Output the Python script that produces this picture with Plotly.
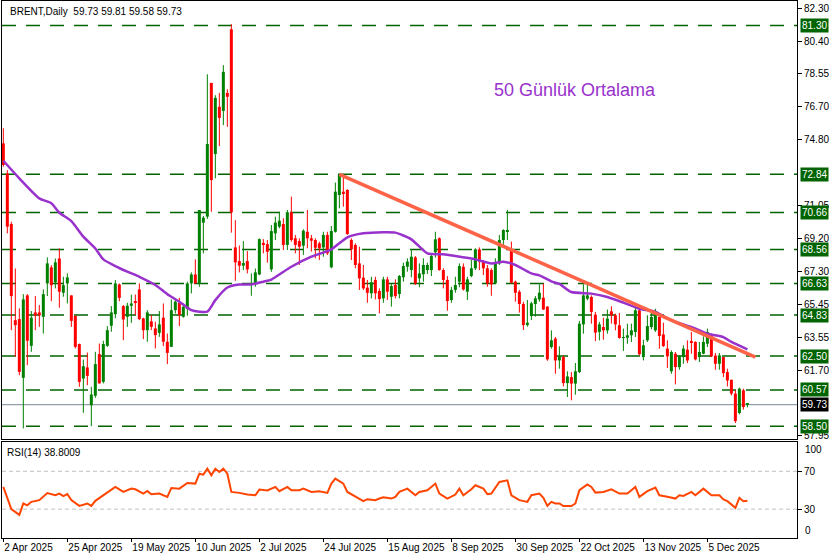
import plotly.graph_objects as go

# ---------------- data ----------------
opens = [74.60,72.89,70.01,64.54,64.60,61.26,65.95,63.08,64.98,64.98,
         64.73,66.63,67.54,66.69,68.05,66.10,66.63,65.95,64.79,63.18,
         61.22,61.85,59.70,60.24,62.61,61.03,63.08,64.22,64.88,66.57,
         65.34,64.73,65.36,65.62,66.29,64.64,63.97,64.47,64.07,63.82,
         64.68,63.31,63.02,65.11,65.53,64.73,65.17,66.63,67.14,66.63,
         70.09,70.43,78.04,73.99,76.68,76.45,77.47,81.09,68.68,67.90,
         67.64,67.90,66.57,66.63,67.14,68.94,68.87,67.43,69.48,69.86,
         70.01,68.82,70.68,69.20,69.04,68.78,69.57,69.20,69.10,68.91,
         68.68,69.39,67.55,69.57,71.66,71.85,71.95,69.10,68.82,67.77,
         66.96,66.39,66.07,66.83,66.20,65.78,66.86,65.87,66.54,66.03,
         66.98,67.58,67.39,68.11,66.92,67.15,67.39,67.39,68.40,69.20,
         67.39,66.83,65.69,66.26,66.73,67.58,66.16,67.05,67.49,68.57,
         67.87,67.49,67.39,66.63,67.77,69.10,69.61,68.57,66.73,66.16,
         65.46,64.26,64.78,65.46,65.72,65.82,65.31,63.01,63.49,62.25,
         62.44,60.96,61.30,60.93,61.59,64.30,65.76,65.86,64.85,63.87,
         64.15,63.96,65.04,64.82,64.25,63.53,63.54,63.68,63.87,65.10,
         62.44,63.39,64.15,63.96,64.72,63.73,62.92,61.63,62.63,61.87,
         62.44,62.86,63.32,63.30,62.44,62.63,63.20,63.73,62.52,62.06,
         62.44,61.59,61.15,60.36,59.26,60.55,59.73]
highs = [75.46,73.08,70.14,67.48,65.21,66.02,66.02,65.06,65.91,65.40,
         66.29,68.11,67.67,68.05,68.62,67.01,67.20,65.95,64.79,63.21,
         62.30,62.70,60.75,62.74,63.21,63.37,64.20,65.34,66.82,66.63,
         65.40,65.53,65.99,66.00,66.63,64.68,65.11,64.83,64.45,65.06,
         65.49,63.78,65.72,65.72,65.81,65.49,66.72,67.26,68.00,70.81,
         70.47,78.53,78.04,77.34,77.47,79.05,77.68,81.38,70.23,68.79,
         69.04,68.47,67.20,67.48,69.19,69.15,69.10,69.95,70.43,70.71,
         70.34,70.81,71.57,69.39,69.20,69.71,70.81,69.39,69.20,69.01,
         69.57,69.57,69.90,72.37,72.84,72.71,71.99,69.20,68.91,68.72,
         67.68,66.83,67.01,67.01,66.35,67.01,67.01,66.63,66.86,67.11,
         67.81,68.06,68.57,68.19,67.77,68.06,67.81,68.34,69.57,69.25,
         67.49,67.05,66.44,67.01,67.77,67.77,67.01,67.96,68.63,68.68,
         67.96,67.68,67.49,68.06,69.39,69.71,70.81,69.01,66.79,66.26,
         65.59,65.69,65.59,65.91,66.58,66.63,65.34,63.96,63.58,63.05,
         62.54,61.63,61.59,62.10,64.49,66.58,66.62,65.95,65.01,64.44,
         64.68,65.14,65.33,64.91,64.95,64.06,64.34,64.34,65.29,65.29,
         63.43,64.82,65.10,65.19,64.91,64.40,63.39,62.82,62.73,62.54,
         63.11,63.39,63.87,63.34,63.30,63.62,64.06,63.77,62.67,62.67,
         62.44,61.78,61.15,60.55,60.70,60.64,59.81]
lows = [73.27,69.48,63.97,62.46,61.41,58.38,61.98,62.74,63.97,64.16,
        63.78,65.91,65.62,66.35,65.25,65.87,65.49,64.16,62.93,60.75,
        59.27,60.84,58.51,60.12,60.94,60.94,63.02,63.88,64.64,65.62,
        63.40,64.16,64.39,64.83,64.54,63.46,63.31,63.97,62.93,63.59,
        63.06,62.04,63.02,64.92,64.20,64.68,64.79,66.06,66.63,66.44,
        68.34,70.30,70.71,72.61,74.44,75.64,75.54,69.52,66.78,67.26,
        67.39,67.20,65.93,66.44,67.10,68.34,67.81,67.29,69.10,69.77,
        68.53,68.53,69.01,68.34,67.68,68.25,68.63,68.44,68.06,67.96,
        68.15,68.25,67.49,69.52,70.90,71.00,69.39,67.96,67.49,66.26,
        66.26,65.53,65.78,65.72,64.93,65.53,65.69,65.31,65.78,65.78,
        66.73,67.30,66.98,66.54,66.41,66.73,67.17,67.05,68.10,67.36,
        66.35,65.08,65.53,66.10,66.41,66.22,65.69,66.98,67.39,67.39,
        67.11,66.44,65.93,66.60,67.68,68.72,69.10,66.63,65.59,64.97,
        63.98,64.17,64.55,64.74,65.59,65.12,62.23,62.92,61.49,61.78,
        60.77,60.17,59.98,60.30,61.53,63.77,65.67,64.34,63.35,63.39,
        63.43,63.77,64.34,63.96,63.49,62.79,63.20,63.30,63.58,62.54,
        62.25,63.30,64.02,63.87,62.92,63.01,61.82,61.49,60.89,61.72,
        62.06,62.10,62.63,62.25,62.16,62.60,63.01,62.44,61.72,61.72,
        61.30,60.77,60.26,58.69,59.18,59.45,59.58]
closes = [73.37,69.86,65.91,64.26,61.60,65.72,63.37,64.68,64.81,64.81,
          66.02,67.77,66.53,67.83,66.16,66.53,66.97,64.50,63.02,61.03,
          61.92,61.37,60.31,62.04,60.94,63.18,63.97,64.98,66.63,65.81,
          64.58,65.36,65.49,65.56,64.60,63.97,64.98,64.16,63.69,64.30,
          63.31,62.68,65.11,65.59,64.83,65.30,66.63,67.14,66.63,70.81,
          70.37,74.56,72.51,77.19,76.05,78.67,77.25,70.67,67.83,67.64,
          67.79,67.43,66.63,67.26,69.15,68.85,68.43,69.61,70.09,70.20,
          68.82,70.68,69.10,68.82,68.72,69.63,69.20,69.06,68.66,68.63,
          69.39,68.34,69.61,71.85,72.80,71.72,69.44,68.57,67.68,66.92,
          66.35,66.10,66.69,66.07,65.74,66.86,66.16,66.48,65.91,67.05,
          67.62,67.87,68.15,66.63,67.20,67.68,67.68,68.19,69.14,67.39,
          66.83,65.63,66.26,66.54,67.62,66.29,66.86,67.49,68.57,67.87,
          67.49,66.63,66.58,67.77,69.10,69.67,69.67,66.67,66.10,65.46,
          64.26,64.40,65.50,65.78,66.10,65.15,62.31,63.39,62.25,62.48,
          60.96,61.34,60.93,61.63,64.34,65.95,65.95,65.01,63.83,64.30,
          63.96,64.63,64.82,64.30,63.53,63.58,63.68,63.96,65.10,62.60,
          63.11,64.21,64.72,65.06,63.64,63.07,62.48,62.73,61.87,62.48,
          62.92,62.25,63.26,62.31,62.73,63.30,63.87,62.48,62.06,62.54,
          61.53,61.11,60.36,58.80,60.64,59.60,59.73]

# 50-day moving average (bar index, value)
ma_bar = [0,4,9,12,14,17,20,23,25,28,31,34,38,41,44,47,49,51,53,56,59,62,65,67,69,
          72,77,82,86,90,95,98,102,106,110,113,118,122,125,128,132,134,137,139,142,
          147,151,155,159,163,167,172,176,180,182,186]
ma_val = [73.61,72.61,71.47,71.19,70.65,70.18,69.29,68.62,68.00,67.62,67.30,67.01,66.54,
          66.02,65.59,65.11,65.02,65.02,65.68,66.40,66.57,66.57,66.73,66.85,67.14,
          67.58,68.15,68.57,69.25,69.48,69.54,69.52,69.14,68.34,68.29,68.19,68.00,
          67.77,67.87,67.68,67.20,67.09,66.75,66.60,66.14,66.05,65.86,65.54,65.19,
          65.01,64.53,64.15,63.77,63.58,63.30,62.88]

# RSI(14) (bar index, value)
rsi_bar = [0,1,2,4,5,6,7,9,11,13,14,15,16,17,19,21,22,23,25,26,28,30,32,33,35,36,37,39,
           41,42,44,46,48,49,50,51,52,53,54,55,56,57,59,61,63,64,66,68,69,71,72,74,75,
           77,79,81,82,83,85,86,88,90,91,93,94,95,97,98,99,101,103,104,106,108,109,111,
           113,114,115,117,118,120,121,122,124,126,127,129,131,132,134,135,136,137,138,
           139,140,142,143,144,146,147,148,150,152,153,154,156,158,159,161,163,164,166,
           168,169,170,172,173,175,177,179,180,181,183,184,185,186]
rsi_val = [53.5,41,30,24,36,34,37.7,39.5,47,44.7,46.5,43.7,46,39.5,33.5,36,33.5,38.8,44.7,
           47.5,53.5,48.2,51.7,51,46.5,49.3,45.8,46.5,43,52.4,51.7,57.7,57,67.5,66.5,72.8,
           65.8,72.8,69.3,72.8,67.5,48.2,47.2,45.4,44.7,50.7,49.7,53.5,49,53.5,50,50,51.7,
           48.2,49,47.2,57,62.3,57,48.2,43.7,38.4,40.5,39.5,41.2,42.6,41.2,43,48.2,51.7,
           44.7,48.2,50,57,46.5,41.2,45.4,51.7,44.7,51,55.3,51.7,45.8,46.5,58.8,60.5,44.7,
           39.5,37.7,44.7,46.5,42,33.5,37.7,36,36,33.2,33.2,36,50,56,53.5,47.5,48.2,51,49,
           46.5,46.5,53.5,43,49,52.8,44.7,43,41.2,44.7,44,48.2,44.7,51.7,44.7,44.7,40.2,
           38.4,31.4,42,38.4,38.8]

trend_bar = [84, 188]
trend_val = [72.84, 62.44]

levels = [81.30, 72.84, 70.66, 68.56, 66.63, 64.83, 62.50, 60.57, 58.50]
last_price = 59.73

price_ticks = [82.30, 80.40, 78.55, 76.70, 74.80, 71.05, 69.20, 67.30, 65.45, 63.55, 61.70, 57.95]
label_bars = [0, 16, 32, 48, 64, 80, 96, 112, 128, 144, 160, 176]
label_text = ["2 Apr 2025", "25 Apr 2025", "19 May 2025", "10 Jun 2025", "2 Jul 2025",
              "24 Jul 2025", "15 Aug 2025", "8 Sep 2025", "30 Sep 2025", "22 Oct 2025",
              "13 Nov 2025", "5 Dec 2025"]
title_text = "BRENT,Daily  59.73 59.81 59.58 59.73"
rsi_text = "RSI(14) 38.8009"

# ---------------- styles ----------------
UP = "#008000"
DN = "#FF0000"
LVL = "#006400"
MA_C = "#9932CC"
TR_C = "#FF6347"
RSI_C = "#FF4500"
FONT = "Liberation Sans"

fig = go.Figure()

for is_up, col in ((True, UP), (False, DN)):
    wx, wy = [], []
    bx, bb, bh = [], [], []
    for i, (o, h, l, c) in enumerate(zip(opens, highs, lows, closes)):
        if (c >= o) != is_up:
            continue
        wx += [i, i, None]
        wy += [l, h, None]
        bx.append(i)
        bb.append(min(o, c))
        bh.append(max(abs(c - o), 0.045))
    fig.add_trace(go.Scatter(x=wx, y=wy, mode="lines", line=dict(color=col, width=1),
                             hoverinfo="skip", xaxis="x", yaxis="y"))
    fig.add_trace(go.Bar(x=bx, y=bh, base=bb, width=0.75, marker=dict(color=col, line=dict(width=0)),
                         xaxis="x", yaxis="y"))

fig.add_trace(go.Scatter(x=ma_bar, y=ma_val, mode="lines",
                         line=dict(color=MA_C, width=2.5, shape="spline", smoothing=0.6),
                         xaxis="x", yaxis="y"))
fig.add_trace(go.Scatter(x=trend_bar, y=trend_val, mode="lines", line=dict(color=TR_C, width=3.5),
                         xaxis="x", yaxis="y"))
fig.add_trace(go.Scatter(x=rsi_bar, y=rsi_val, mode="lines", line=dict(color=RSI_C, width=2),
                         xaxis="x2", yaxis="y2"))

shapes = []
for lv in levels:
    shapes.append(dict(type="line", xref="x domain", yref="y", x0=0, x1=1, y0=lv, y1=lv,
                       line=dict(color=LVL, width=1.5, dash="14px,10px"), layer="below"))
shapes.append(dict(type="line", xref="x domain", yref="y", x0=0, x1=1, y0=last_price, y1=last_price,
                   line=dict(color="#778899", width=1), layer="below"))
for lv in (70, 30):
    shapes.append(dict(type="line", xref="x2 domain", yref="y2", x0=0, x1=1, y0=lv, y1=lv,
                       line=dict(color="#C0C0C0", width=1, dash="4px,3px"), layer="below"))

annotations = []
for lv in levels:
    annotations.append(dict(xref="paper", yref="y", x=1, y=lv, xanchor="left", yanchor="middle",
                            xshift=3, text=f"{lv:.2f}", showarrow=False, bgcolor=LVL,
                            font=dict(color="white", size=10, family=FONT), borderpad=1))
annotations.append(dict(xref="paper", yref="y", x=1, y=last_price, xanchor="left", yanchor="middle",
                        xshift=3, text=f"{last_price:.2f}", showarrow=False, bgcolor="black",
                        font=dict(color="white", size=10, family=FONT), borderpad=1))
annotations.append(dict(xref="paper", yref="paper", x=0.0075, y=1, xanchor="left", yanchor="top",
                        yshift=-3, text=title_text, showarrow=False,
                        font=dict(color="black", size=10, family=FONT)))
annotations.append(dict(xref="paper", yref="y2 domain", x=0.004, y=1, xanchor="left", yanchor="top",
                        yshift=-3, text=rsi_text, showarrow=False,
                        font=dict(color="black", size=10, family=FONT)))
annotations.append(dict(xref="paper", yref="paper", x=0.7208, y=0.834, xanchor="center", yanchor="middle",
                        text="50 Günlük Ortalama", showarrow=False,
                        font=dict(color=MA_C, size=18, family=FONT)))
annotations.append(dict(xref="paper", yref="y2 domain", x=1, y=1, xanchor="left", yanchor="top",
                        xshift=6, yshift=0, text="100", showarrow=False,
                        font=dict(color="black", size=10, family=FONT)))
annotations.append(dict(xref="paper", yref="y2 domain", x=1, y=0, xanchor="left", yanchor="bottom",
                        xshift=6, yshift=0, text="0", showarrow=False,
                        font=dict(color="black", size=10, family=FONT)))

axis_common = dict(showgrid=False, zeroline=False, showline=True, mirror=True,
                   linecolor="black", linewidth=1)

fig.update_layout(
    width=839, height=559,
    margin=dict(l=2, r=42, t=1, b=21),
    plot_bgcolor="white", paper_bgcolor="white",
    showlegend=False, barmode="overlay",
    font=dict(family=FONT, size=10, color="black"),
    shapes=shapes, annotations=annotations,
    xaxis=dict(domain=[0, 1], anchor="y", range=[-0.33, 198.4], showticklabels=False, ticks="",
               **axis_common),
    yaxis=dict(domain=[0.1844, 1], anchor="x", side="right", range=[57.78, 82.70],
               tickvals=price_ticks, ticktext=[f"{v:.2f}" for v in price_ticks],
               ticks="outside", ticklen=4, tickcolor="black",
               tickfont=dict(size=10, family=FONT, color="black"), **axis_common),
    xaxis2=dict(domain=[0, 1], anchor="y2", matches="x", range=[-0.33, 198.4],
                tickvals=label_bars, ticktext=label_text, ticks="outside", ticklen=3,
                tickcolor="black", ticklabelposition="outside right", tickangle=0,
                tickfont=dict(size=10, family=FONT, color="black"), **axis_common),
    yaxis2=dict(domain=[0, 0.1788], anchor="x2", side="right", range=[-0.5, 101],
                tickvals=[70, 30], ticktext=["70", "30"], ticks="outside", ticklen=4,
                tickcolor="black", tickfont=dict(size=10, family=FONT, color="black"),
                **axis_common),
)

fig.write_html("out.html", config={"displayModeBar": False},
               post_script="document.body.style.margin='0';document.body.style.overflow='hidden';")
